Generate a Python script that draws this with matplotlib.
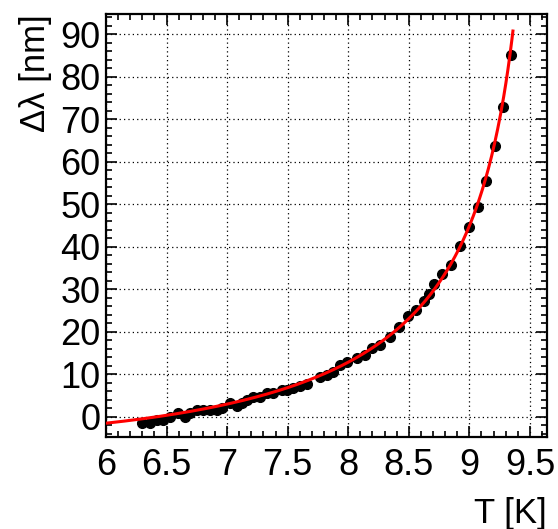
import numpy as np
import matplotlib
matplotlib.use("Agg")
import matplotlib.pyplot as plt
from matplotlib.ticker import MultipleLocator

# Measured points: temperature T [K] and penetration-depth shift [nm]
T_data = [6.295, 6.363, 6.419, 6.473, 6.528, 6.597, 6.652, 6.694, 6.749, 6.804,
          6.859, 6.914, 6.955, 7.024, 7.079, 7.120, 7.162, 7.217, 7.272, 7.327,
          7.382, 7.451, 7.492, 7.547, 7.602, 7.657, 7.767, 7.822, 7.877, 7.933,
          7.988, 8.070, 8.139, 8.194, 8.262, 8.345, 8.419, 8.496, 8.560, 8.626,
          8.670, 8.711, 8.772, 8.849, 8.921, 8.997, 9.069, 9.141, 9.215, 9.281,
          9.342]
dlam_data = [-1.6, -1.6, -0.9, -0.8, 0.0, 0.8, 0.0, 0.8, 1.6, 1.6,
             1.6, 1.6, 2.0, 3.1, 2.4, 3.1, 3.9, 4.7, 4.7, 5.5,
             5.5, 6.3, 6.3, 6.7, 7.1, 7.7, 9.3, 9.8, 10.6, 12.2,
             12.9, 13.7, 14.5, 16.1, 16.9, 18.8, 21.2, 23.7, 25.1, 27.3,
             28.9, 31.2, 33.5, 35.7, 40.2, 44.7, 49.4, 55.5, 63.8, 73.0,
             85.1]

# Fit parameters (two-fluid model): dlam = lam0 / sqrt(1 - (T/Tc)^4) + offset
lam0 = 49.0
Tc = 9.646
offset = -54.7
fit_Tmin, fit_Tmax = 6.0, 9.36

x_major = [6, 6.5, 7, 7.5, 8, 8.5, 9, 9.5]
y_major = [0, 10, 20, 30, 40, 50, 60, 70, 80, 90]

plt.rcParams['font.family'] = ['Liberation Sans', 'DejaVu Sans']

fig = plt.figure(figsize=(5.58, 5.29), dpi=100)
ax = fig.add_axes([0.19, 0.174, 0.790, 0.7995])

Tf = np.linspace(fit_Tmin, fit_Tmax, 400)
yf = lam0 / np.sqrt(1 - (Tf / Tc) ** 4) + offset

ax.plot(T_data, dlam_data, 'o', color='black', markersize=7, zorder=3)
ax.plot(Tf, yf, '-', color='red', linewidth=2.2, zorder=4)

ax.set_xlim(6.0, 9.64)
ax.set_ylim(-4.8, 94.8)
ax.set_xticks(x_major)
ax.set_xticklabels([f"{v:g}" for v in x_major])
ax.set_yticks(y_major)
ax.xaxis.set_minor_locator(MultipleLocator(0.1))
ax.yaxis.set_minor_locator(MultipleLocator(2))

ax.grid(True, which='major', color='black', linestyle=(0, (1, 2.5)), linewidth=0.9)
ax.tick_params(which='both', direction='in', top=True, right=True, width=1.2, colors='black')
ax.tick_params(which='major', length=8, labelsize=26)
ax.tick_params(which='minor', length=4.5)
ax.tick_params(axis='x', which='major', pad=8)
ax.tick_params(axis='y', which='major', pad=4)
for s in ax.spines.values():
    s.set_linewidth(1.6)

ax.set_xlabel('T [K]', fontsize=25, loc='right', labelpad=10)
ax.set_ylabel('Δλ [nm]', fontsize=25, loc='top', labelpad=6)

fig.savefig('out.png', dpi=100)
